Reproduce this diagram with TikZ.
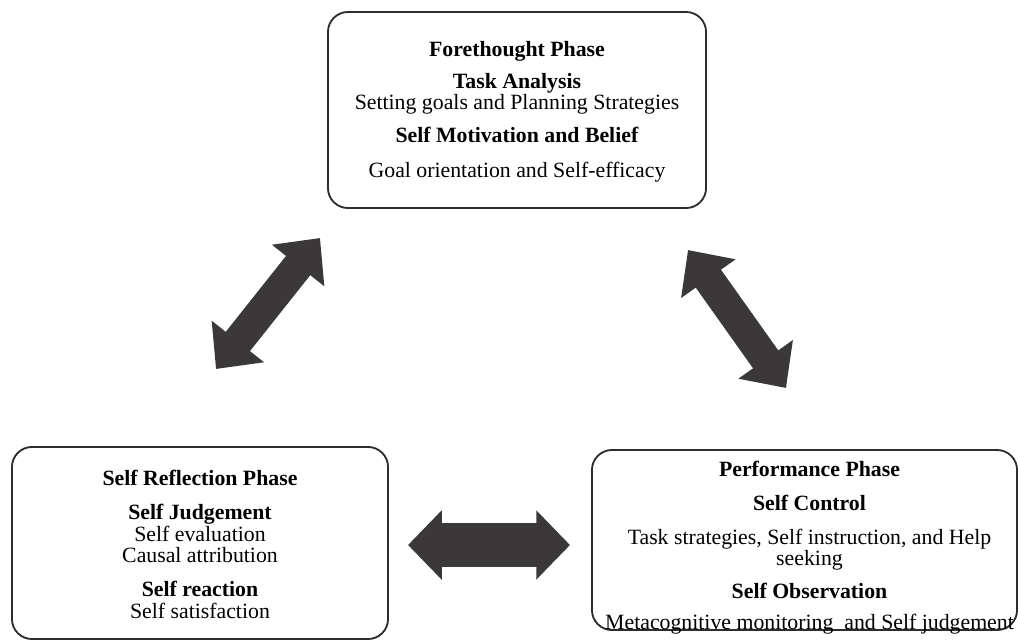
\documentclass[tikz,border=0pt]{standalone}
\usepackage{fontspec}
\setmainfont{Liberation Serif}
\usepackage{xcolor}
\usetikzlibrary{arrows.meta, positioning, calc}
\definecolor{arrowgray}{RGB}{58,56,56}
\definecolor{framegray}{RGB}{45,45,45}

\begin{document}
\begin{tikzpicture}[
    x=0.025cm, y=-0.025cm,
    phase/.style={rectangle, rounded corners=0.5cm, draw=framegray, line width=1.3pt, align=center, inner sep=0pt, font=\fontsize{15.5}{15.2}\selectfont},
    phasetext/.style={align=center, inner sep=0pt, font=\fontsize{15.5}{15.2}\selectfont},
    bigarrow/.style={draw=arrowgray, line cap=butt, {Triangle[length=25pt, width=46pt]}-{Triangle[length=25pt, width=46pt]}},
    flatarrow/.style={draw=arrowgray, line cap=butt, {Triangle[length=24pt, width=48pt]}-{Triangle[length=24pt, width=48pt]}}
]
    \useasboundingbox (0,0) rectangle (1018,640);

    \node (forethought) [phase, minimum width=9.45cm, minimum height=4.9cm] at (517,110)
        {\rule{0pt}{13pt}\textbf{Forethought Phase}\\[7.5pt]
         \textbf{Task Analysis}\\
         Setting goals and Planning Strategies\\[8pt]
         \textbf{Self Motivation and Belief}\\[9.5pt]
         Goal orientation and Self-efficacy};
    \node (reflection) [phase, minimum width=9.4cm, minimum height=4.8cm] at (200,543)
        {\rule{0pt}{13pt}\textbf{Self Reflection Phase}\\[9pt]
         \textbf{Self Judgement}\\
         Self evaluation\\
         Causal attribution\\[9pt]
         \textbf{Self reaction}\\
         Self satisfaction};
    % text runs down to the frame here, so it sits apart from the box
    \node (performance) [phase, minimum width=10.625cm, minimum height=4.5cm] at (804.5,540) {};
    \node (performancetext) [phasetext, anchor=north] at ($(performance.north)+(5,12)$)
        {\textbf{Performance Phase}\\[8.5pt]
         \textbf{Self Control}\\[9pt]
         Task strategies,\ Self instruction, and Help\\
         seeking\\[8.5pt]
         \textbf{Self Observation}\\[7pt]
         Metacognitive monitoring\ \ and Self judgement};

    % free ends of the big arrows
    \coordinate (lefttail) at (216,369);
    \coordinate (lefthead) at (320,238);
    \coordinate (righthead) at (688,250);
    \coordinate (righttail) at (786,388);
    \coordinate (midtail) at (408,545);
    \coordinate (midhead) at (570,545);

    \draw [bigarrow, line width=22pt] (lefttail) -- (lefthead);
    \draw [bigarrow, line width=22pt] (righthead) -- (righttail);
    \draw [flatarrow, line width=30.6pt] (midtail) -- (midhead);
\end{tikzpicture}
\end{document}
